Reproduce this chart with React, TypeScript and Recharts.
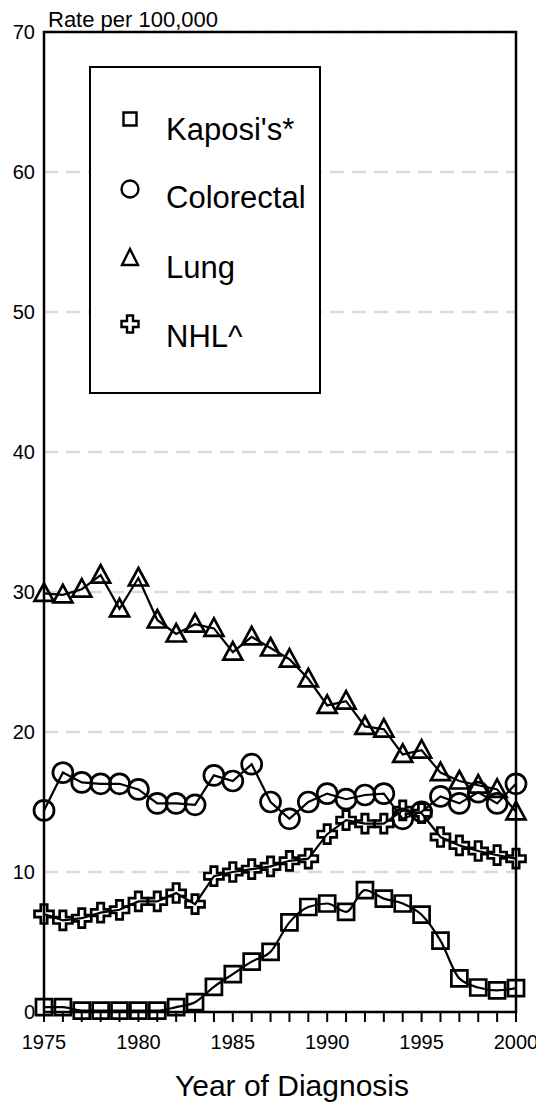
import React from 'react';
import { LineChart, Line, XAxis, YAxis, CartesianGrid, ReferenceArea, Legend } from 'recharts';

const years = [1975, 1976, 1977, 1978, 1979, 1980, 1981, 1982, 1983, 1984, 1985, 1986, 1987, 1988, 1989, 1990, 1991, 1992, 1993, 1994, 1995, 1996, 1997, 1998, 1999, 2000];
const kaposi = [0.35, 0.35, 0.1, 0.1, 0.1, 0.1, 0.1, 0.35, 0.7, 1.8, 2.7, 3.6, 4.3, 6.4, 7.5, 7.75, 7.15, 8.7, 8.1, 7.75, 6.95, 5.1, 2.4, 1.75, 1.55, 1.7];
const colorectal = [14.4, 17.1, 16.4, 16.3, 16.3, 15.9, 14.9, 14.9, 14.8, 16.9, 16.5, 17.7, 15.0, 13.8, 15.0, 15.6, 15.2, 15.5, 15.6, 13.8, 14.3, 15.4, 14.9, 15.7, 14.9, 16.3];
const lung = [29.9, 29.8, 30.2, 31.2, 28.8, 31.0, 28.0, 27.0, 27.7, 27.4, 25.7, 26.8, 26.0, 25.2, 23.8, 21.9, 22.2, 20.4, 20.2, 18.4, 18.7, 17.1, 16.5, 16.2, 15.9, 14.3];
const nhl = [7.0, 6.55, 6.7, 7.1, 7.3, 7.9, 7.9, 8.5, 7.7, 9.7, 10.0, 10.2, 10.4, 10.8, 10.95, 12.7, 13.7, 13.45, 13.45, 14.4, 14.2, 12.5, 11.9, 11.5, 11.2, 10.95];
const seriesNames = ["Kaposi's*", 'Colorectal', 'Lung', 'NHL^'];
const yTicks = [0, 10, 20, 30, 40, 50, 60, 70];
const xLabelYears = [1975, 1980, 1985, 1990, 1995, 2000];
const yAxisTitle = 'Rate per 100,000';
const xAxisTitle = 'Year of Diagnosis';

const data = years.map((year, i) => ({
  year,
  kaposi: kaposi[i],
  colorectal: colorectal[i],
  lung: lung[i],
  nhl: nhl[i],
}));

const FONT = '"Liberation Sans", Arial, Helvetica, sans-serif';
const INK = '#000';

const squarePath = (cx: number, cy: number, h: number) =>
  `M${cx - h},${cy - h}H${cx + h}V${cy + h}H${cx - h}Z`;
const trianglePath = (cx: number, cy: number, hw: number, up: number, down: number) =>
  `M${cx},${cy - up}L${cx + hw},${cy + down}L${cx - hw},${cy + down}Z`;
const crossPath = (cx: number, cy: number, l: number, w: number) =>
  `M${cx - w},${cy - l}H${cx + w}V${cy - w}H${cx + l}V${cy + w}H${cx + w}V${cy + l}H${cx - w}V${cy + w}H${cx - l}V${cy - w}H${cx - w}Z`;

const markerStyle = { fill: 'none', stroke: INK, strokeWidth: 2.7 };
const legendMarkerStyle = { fill: 'none', stroke: INK, strokeWidth: 2.4 };

const SquareDot = (p: any) =>
  p.cx == null ? <g key={p.index} /> : <path key={p.index} d={squarePath(p.cx, p.cy, 8)} {...markerStyle} />;
const CircleDot = (p: any) =>
  p.cx == null ? <g key={p.index} /> : <circle key={p.index} cx={p.cx} cy={p.cy} r={10} {...markerStyle} />;
const TriangleDot = (p: any) =>
  p.cx == null ? <g key={p.index} /> : <path key={p.index} d={trianglePath(p.cx, p.cy, 9.5, 10, 7.5)} {...markerStyle} />;
const CrossDot = (p: any) =>
  p.cx == null ? <g key={p.index} /> : <path key={p.index} d={crossPath(p.cx, p.cy, 9.5, 3.2)} {...markerStyle} />;

const XTick = (props: any) => {
  const { x, y, payload } = props;
  if (!xLabelYears.includes(payload.value)) return <g />;
  return (
    <text x={x} y={y} dy="0.71em" textAnchor="middle" fontSize={20} fontFamily={FONT} fill={INK}>
      {payload.value}
    </text>
  );
};

const XTitle = () => (
  <text x={292} y={1096} textAnchor="middle" fontSize={30} fontFamily={FONT} fill={INK}>
    {xAxisTitle}
  </text>
);

const YTitle = () => (
  <text x={48} y={27} textAnchor="start" fontSize={22} fontFamily={FONT} fill={INK}>
    {yAxisTitle}
  </text>
);

const LEG_W = 232;
const LEG_H = 328;
const legendRows = [119, 189, 258, 324];
const legendBaselines = [140, 208, 278, 347];

const LegendBox = () => {
  const ox = 89;
  const oy = 66;
  const mx = 130 - ox;
  const markers = [
    (cy: number) => <path d={squarePath(mx, cy, 6.5)} {...legendMarkerStyle} />,
    (cy: number) => <circle cx={mx} cy={cy} r={8.5} {...legendMarkerStyle} />,
    (cy: number) => <path d={trianglePath(mx, cy, 8, 9, 7)} {...legendMarkerStyle} />,
    (cy: number) => <path d={crossPath(mx, cy, 8.5, 3)} {...legendMarkerStyle} />,
  ];
  return (
    <svg width={LEG_W} height={LEG_H} style={{ display: 'block', background: '#fff' }}>
      <rect x={1} y={1} width={LEG_W - 2} height={LEG_H - 2} fill="#fff" stroke={INK} strokeWidth={2} />
      {seriesNames.map((name, i) => (
        <g key={name}>
          {markers[i](legendRows[i] - oy)}
          <text x={166 - ox} y={legendBaselines[i] - oy} fontSize={31} fontFamily={FONT} fill={INK}>
            {name}
          </text>
        </g>
      ))}
    </svg>
  );
};

export default function App() {
  return (
    <div style={{ margin: '-8px', width: 544, height: 1111, overflow: 'hidden', background: '#fff' }}>
      <LineChart width={544} height={1111} data={data} margin={{ top: 32, right: 28, left: 0, bottom: 0 }}>
        <CartesianGrid vertical={false} stroke="#d9d9d9" strokeWidth={2.5} strokeDasharray="14 8" />
        <XAxis
          dataKey="year"
          type="number"
          domain={[1975, 2000]}
          ticks={years}
          interval={0}
          height={99}
          tickSize={10}
          tickMargin={13}
          tick={<XTick />}
          tickLine={{ stroke: INK, strokeWidth: 2 }}
          axisLine={{ stroke: INK, strokeWidth: 2 }}
          label={<XTitle />}
        />
        <YAxis
          type="number"
          domain={[0, 70]}
          ticks={yTicks}
          interval={0}
          width={44}
          tickLine={false}
          axisLine={false}
          tickSize={6}
          tickMargin={3}
          tick={{ fontSize: 20, fontFamily: FONT, fill: INK }}
          label={<YTitle />}
        />
        <ReferenceArea x1={1975} x2={2000} y1={0} y2={70} fill="none" fillOpacity={0} stroke={INK} strokeWidth={2.5} ifOverflow="visible" />
        <Line dataKey="kaposi" name={seriesNames[0]} type="monotone" stroke={INK} strokeWidth={2.2} dot={SquareDot} activeDot={false} isAnimationActive={false} />
        <Line dataKey="colorectal" name={seriesNames[1]} type="linear" stroke={INK} strokeWidth={2.2} dot={CircleDot} activeDot={false} isAnimationActive={false} />
        <Line dataKey="lung" name={seriesNames[2]} type="linear" stroke={INK} strokeWidth={2.2} dot={TriangleDot} activeDot={false} isAnimationActive={false} />
        <Line dataKey="nhl" name={seriesNames[3]} type="linear" stroke={INK} strokeWidth={2.2} dot={CrossDot} activeDot={false} isAnimationActive={false} />
        <Legend
          layout="horizontal"
          verticalAlign="middle"
          align="center"
          content={<LegendBox />}
          wrapperStyle={{ left: 89, top: 66, width: LEG_W, height: LEG_H, margin: 0, padding: 0 }}
        />
      </LineChart>
    </div>
  );
}
